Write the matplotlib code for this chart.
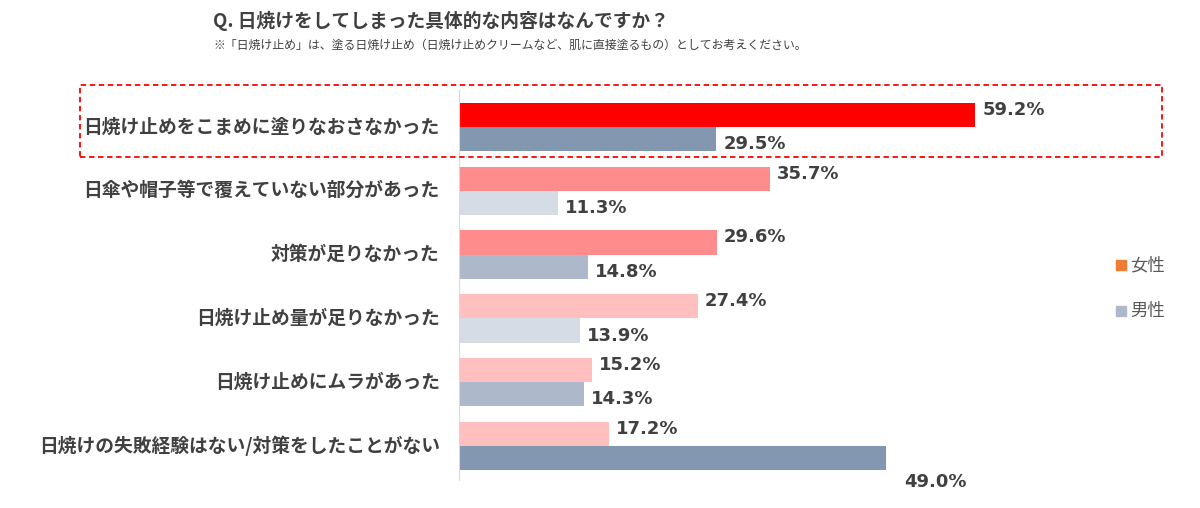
import matplotlib.pyplot as plt
from matplotlib.patches import Rectangle

plt.rcParams["font.family"] = "Noto Sans CJK JP"

categories = ["日焼け止めをこまめに塗りなおさなかった", "日傘や帽子等で覆えていない部分があった",
              "対策が足りなかった", "日焼け止め量が足りなかった", "日焼け止めにムラがあった",
              "日焼けの失敗経験はない/対策をしたことがない"]
female = [59.2, 35.7, 29.6, 27.4, 15.2, 17.2]
male = [29.5, 11.3, 14.8, 13.9, 14.3, 49.0]
female_colors = ["#FF0000", "#FF8C8C", "#FF8C8C", "#FFBFBF", "#FFBFBF", "#FFBFBF"]
male_colors = ["#8497B0", "#D6DCE5", "#ADB9CA", "#D6DCE5", "#ADB9CA", "#8497B0"]

W, H = 1200, 508
fig = plt.figure(figsize=(12, 5.08), dpi=100)
ax = fig.add_axes([459 / W, 1 - 480 / H, (1100 - 459) / W, 390 / H])
ax.set_xlim(0, (1100 - 459) / 8.72)
ax.set_ylim(5 + 34 / 63.8, -37 / 63.8)

h = 0.38
txt = "#404040"
num = dict(fontsize=13, fontweight="bold", color=txt, family="DejaVu Sans",
           va="center", ha="left")
for i in range(len(categories)):
    ax.barh(i - h / 2, female[i], height=h, color=female_colors[i])
    ax.barh(i + h / 2, male[i], height=h, color=male_colors[i])
    ax.text(female[i] + 0.8, i - h / 2 - 0.08, f"{female[i]:.1f}%", **num)
    if i == len(categories) - 1:
        ax.text(male[i] + 2, i + h / 2 + 0.38, f"{male[i]:.1f}%", **num)
    else:
        ax.text(male[i] + 0.8, i + h / 2 + 0.08, f"{male[i]:.1f}%", **num)
    ax.text(-2.2, i, categories[i], va="center", ha="right", fontsize=13.5,
            fontweight="bold", color=txt)

for s in ["top", "right", "bottom"]:
    ax.spines[s].set_visible(False)
ax.spines["left"].set_color("#D9D9D9")
ax.set_xticks([])
ax.set_yticks([])

fig.text(213 / W, 1 - 21 / H, "Q. 日焼けをしてしまった具体的な内容はなんですか？", fontsize=13.5,
         fontweight="bold", color=txt, va="center")
fig.text(213 / W, 1 - 45 / H, "※「日焼け止め」は、塗る日焼け止め（日焼け止めクリームなど、肌に直接塗るもの）としてお考えください。",
         fontsize=8.6, color=txt, va="center")

fig.add_artist(Rectangle((80 / W, 1 - 157 / H), (1162 - 80) / W, 72 / H, fill=False,
                         edgecolor="#FF0000", linestyle=(0, (3, 2)), linewidth=1.3,
                         transform=fig.transFigure))

for y, lab, c in [(265, "女性", "#ED7D31"), (311, "男性", "#ADB9CA")]:
    fig.add_artist(Rectangle((1116 / W, 1 - (y + 5) / H), 10 / W, 10 / H, color=c,
                             transform=fig.transFigure))
    fig.text(1130 / W, 1 - y / H, lab, fontsize=12.5, color="#595959", va="center")

fig.savefig("out.png", dpi=100)
